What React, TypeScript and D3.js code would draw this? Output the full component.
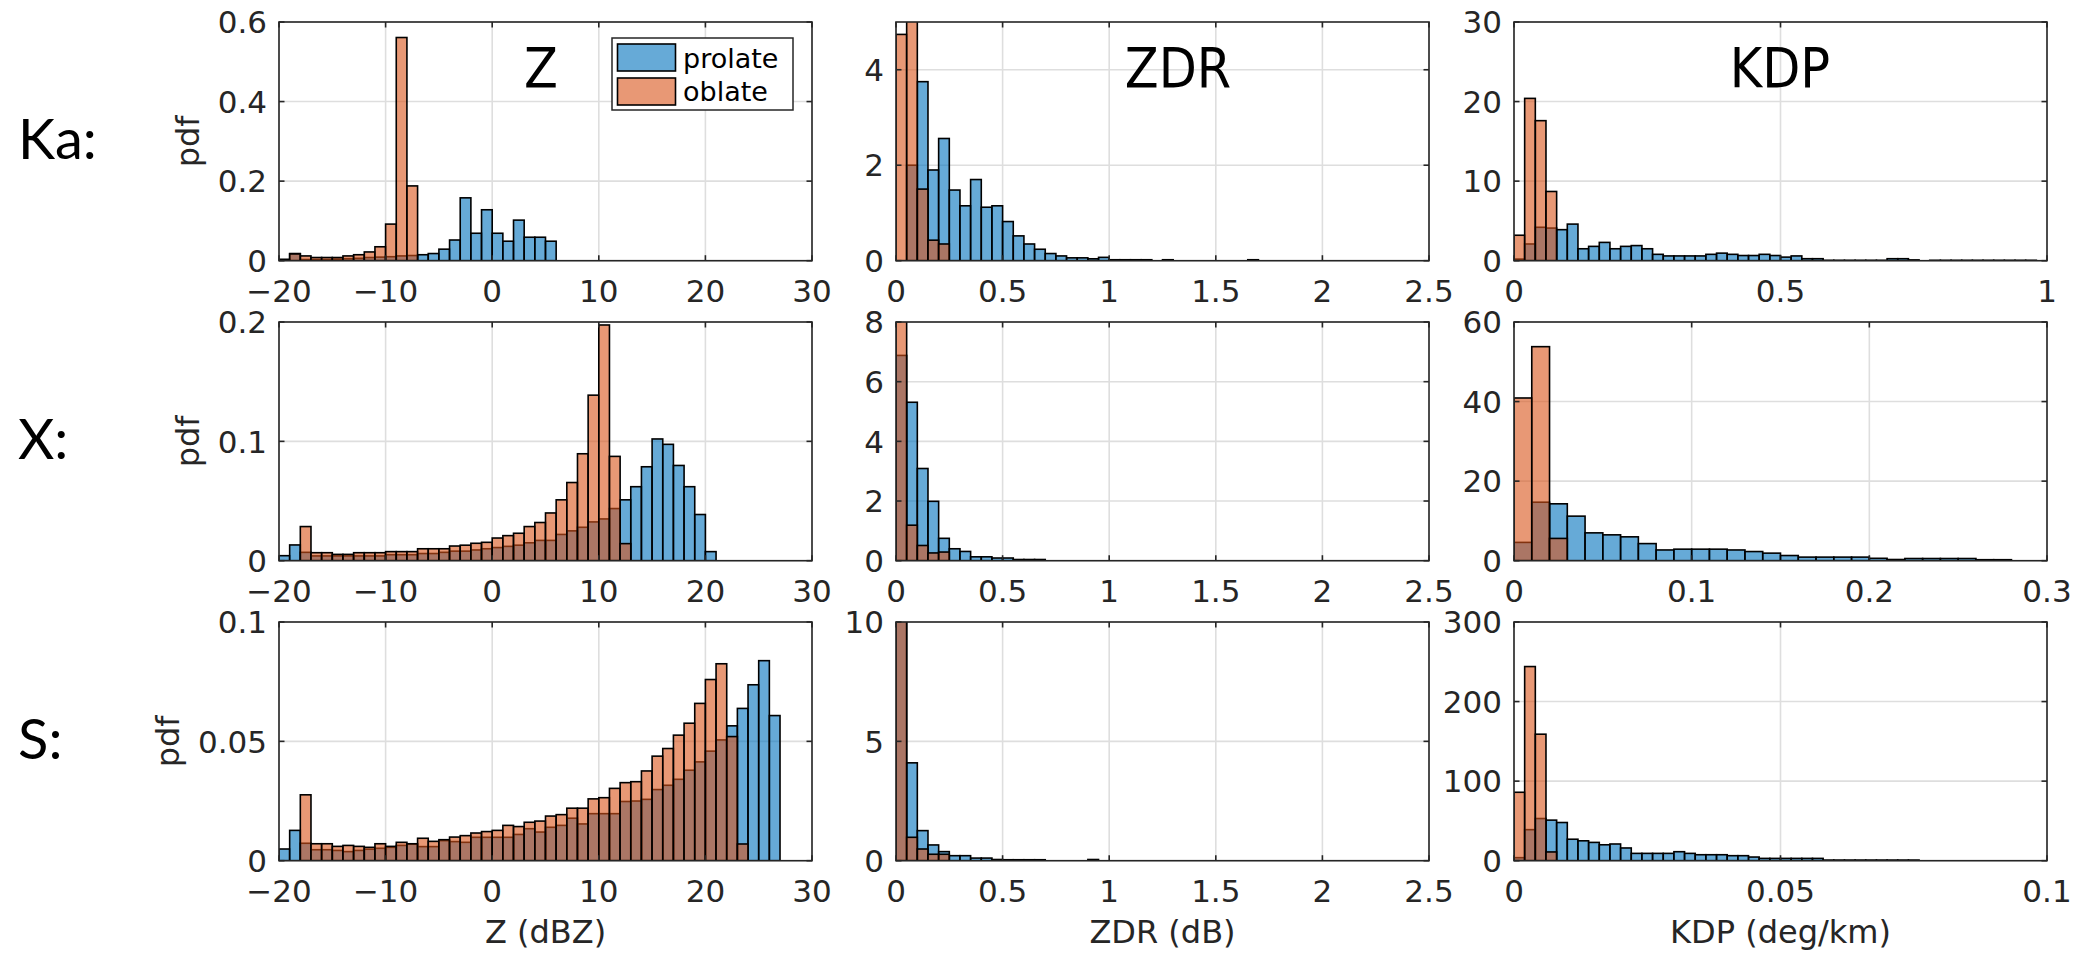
import React, { useEffect } from 'react';
import * as d3 from 'd3';

// ---------- data ----------
const bandLabels = ['Ka:', 'X:', 'S:'];
const columnTitles = ['Z', 'ZDR', 'KDP'];
const axisTitles = ['Z (dBZ)', 'ZDR (dB)', 'KDP (deg/km)'];
const legendLabels = ['prolate', 'oblate'];

const zXTicks = [-20, -10, 0, 10, 20, 30];
const zdrXTicks = [0, 0.5, 1, 1.5, 2, 2.5];
const kaKdpXTicks = [0, 0.5, 1];
const xKdpXTicks = [0, 0.1, 0.2, 0.3];
const sKdpXTicks = [0, 0.05, 0.1];

const kaZYTicks = [0, 0.2, 0.4, 0.6];
const kaZdrYTicks = [0, 2, 4];
const kaKdpYTicks = [0, 10, 20, 30];
const xZYTicks = [0, 0.1, 0.2];
const xZdrYTicks = [0, 2, 4, 6, 8];
const xKdpYTicks = [0, 20, 40, 60];
const sZYTicks = [0, 0.05, 0.1];
const sZdrYTicks = [0, 5, 10];
const sKdpYTicks = [0, 100, 200, 300];

// Z histograms: 1 dBZ bins starting at -20
const kaZProlate = [0.003, 0.018, 0.003, 0.003, 0.003, 0.004, 0.005, 0.006, 0.008, 0.009, 0.010, 0.012, 0.013,
  0.015, 0.018, 0.029, 0.052, 0.158, 0.069, 0.128, 0.069, 0.049, 0.102, 0.059, 0.059, 0.049];
const kaZOblate = [0.003, 0.017, 0.012, 0.008, 0.008, 0.008, 0.012, 0.015, 0.022, 0.035, 0.092, 0.561, 0.188];

const xZProlate = [0.0042, 0.0132, 0.007, 0.004, 0.004, 0.004, 0.004, 0.004, 0.004, 0.004,
  0.005, 0.005, 0.005, 0.006, 0.006, 0.007, 0.008, 0.008, 0.009, 0.010,
  0.011, 0.012, 0.013, 0.015, 0.017, 0.017, 0.022, 0.025, 0.028, 0.0325,
  0.035, 0.0437, 0.051, 0.062, 0.0787, 0.102, 0.0975, 0.0798, 0.062, 0.0387, 0.0076];
const xZOblate = [0, 0, 0.0286, 0.0067, 0.0067, 0.0053, 0.0053, 0.0067, 0.0067, 0.0067,
  0.0076, 0.0076, 0.0076, 0.010, 0.010, 0.010, 0.0123, 0.013, 0.0146, 0.0154,
  0.019, 0.021, 0.023, 0.0286, 0.032, 0.040, 0.051, 0.0655, 0.0896, 0.1387,
  0.1975, 0.0874, 0.0143];

const sZProlate = [0.0049, 0.0127, 0.0073, 0.0046, 0.0046, 0.0043, 0.0038, 0.0043, 0.0048, 0.0052,
  0.0056, 0.0064, 0.0069, 0.0059, 0.0059, 0.0084, 0.008, 0.0077, 0.0098, 0.0098,
  0.0098, 0.0098, 0.011, 0.0134, 0.012, 0.014, 0.0148, 0.0178, 0.0154, 0.0197,
  0.0197, 0.0197, 0.0248, 0.025, 0.0257, 0.0298, 0.0316, 0.0341, 0.0379, 0.0414,
  0.0459, 0.0506, 0.0565, 0.0638, 0.0737, 0.0838, 0.0608];
const sZOblate = [0, 0, 0.0276, 0.0071, 0.0071, 0.006, 0.0064, 0.006, 0.0056, 0.0071,
  0.006, 0.0077, 0.0071, 0.0094, 0.0081, 0.0088, 0.0099, 0.0105, 0.0116, 0.0122,
  0.0127, 0.0148, 0.0143, 0.0161, 0.0166, 0.0187, 0.0193, 0.022, 0.022, 0.0259,
  0.0264, 0.0303, 0.0327, 0.0331, 0.0376, 0.0438, 0.047, 0.0526, 0.0576, 0.0659,
  0.0759, 0.0825, 0.052, 0.007];

// ZDR histograms: 0.05 dB bins starting at 0
const kaZdrProlate = [0, 2.0, 3.75, 1.9, 2.56, 1.48, 1.15, 1.7, 1.12, 1.15,
  0.82, 0.52, 0.35, 0.24, 0.15, 0.1, 0.06, 0.06, 0.04, 0.07,
  0.02, 0.02, 0.02, 0.02, 0, 0.02, 0, 0, 0, 0, 0, 0, 0, 0.02];
const kaZdrOblate = [4.74, 5.6, 1.5, 0.43, 0.35];

const xZdrProlate = [6.88, 5.31, 3.09, 1.99, 0.75, 0.4, 0.31, 0.13, 0.13, 0.09, 0.09, 0.04, 0.04, 0.04];
const xZdrOblate = [9.0, 1.19, 0.51, 0.26, 0.29];

const sZdrProlate = [10.8, 4.1, 1.26, 0.66, 0.38, 0.21, 0.21, 0.11, 0.11, 0.05,
  0.04, 0.04, 0.04, 0.04, 0, 0, 0, 0, 0.05];
const sZdrOblate = [12.0, 0.98, 0.49, 0.27, 0.27];

// KDP histograms
const kaKdpProlate = [0.2, 2.1, 4.2, 4.1, 3.9, 4.6, 1.5, 1.8, 2.3, 1.5,
  1.8, 1.9, 1.5, 0.8, 0.6, 0.6, 0.6, 0.6, 0.8, 0.95,
  0.8, 0.65, 0.65, 0.8, 0.65, 0.45, 0.6, 0.25, 0.25, 0.05,
  0.05, 0.05, 0.05, 0.05, 0.05, 0.25, 0.25, 0.1, 0, 0.05,
  0.05, 0.05, 0.05, 0.05, 0.05, 0.05, 0.05, 0.05, 0.05];
const kaKdpOblate = [3.2, 20.4, 17.6, 8.7];

const xKdpProlate = [4.6, 14.7, 14.3, 11.2, 7.0, 6.5, 6.0, 4.3, 2.7, 2.9,
  2.9, 2.9, 2.7, 2.3, 1.9, 1.3, 0.9, 0.9, 0.9, 0.9,
  0.6, 0.3, 0.55, 0.55, 0.55, 0.55, 0.25, 0.25];
const xKdpOblate = [40.9, 53.8, 5.6];

const sKdpProlate = [3.8, 39, 53, 51, 48, 27, 25, 23, 20, 21,
  16, 9.2, 9.2, 9.2, 9.2, 11.3, 9.2, 7.5, 7.5, 7.5,
  6.3, 6.3, 4.6, 2.9, 2.9, 2.9, 2.9, 2.9, 2.9, 0.8,
  0.8, 0.8, 0.8, 0.8, 0.8, 0.8, 0.8, 0.8];
const sKdpOblate = [86, 244, 159, 11];

// ---------- styling / layout ----------
const W = 2088;
const H = 953;
const COL_LEFT = [279, 896, 1514];
const ROW_TOP = [22, 322, 622];
const PW = 533;
const PH = 238.7;
const BLUE = 'rgb(0,114,189)';
const ORANGE = 'rgb(217,83,25)';
const ALPHA = 0.6;
const AXIS_COLOR = '#262626';
const GRID_COLOR = '#dedede';
const TICK_FS = 31;
const FONT = '"DejaVu Sans", Verdana, sans-serif';

type PanelCfg = {
  row: number; col: number;
  xDomain: [number, number]; yMax: number;
  xTicks: number[]; yTicks: number[];
  binStart: number; binWidth: number;
  prolate: number[]; oblate: number[];
};

const panels: PanelCfg[] = [
  { row: 0, col: 0, xDomain: [-20, 30], yMax: 0.6, xTicks: zXTicks, yTicks: kaZYTicks, binStart: -20, binWidth: 1, prolate: kaZProlate, oblate: kaZOblate },
  { row: 0, col: 1, xDomain: [0, 2.5], yMax: 5, xTicks: zdrXTicks, yTicks: kaZdrYTicks, binStart: 0, binWidth: 0.05, prolate: kaZdrProlate, oblate: kaZdrOblate },
  { row: 0, col: 2, xDomain: [0, 1], yMax: 30, xTicks: kaKdpXTicks, yTicks: kaKdpYTicks, binStart: 0, binWidth: 0.02, prolate: kaKdpProlate, oblate: kaKdpOblate },
  { row: 1, col: 0, xDomain: [-20, 30], yMax: 0.2, xTicks: zXTicks, yTicks: xZYTicks, binStart: -20, binWidth: 1, prolate: xZProlate, oblate: xZOblate },
  { row: 1, col: 1, xDomain: [0, 2.5], yMax: 8, xTicks: zdrXTicks, yTicks: xZdrYTicks, binStart: 0, binWidth: 0.05, prolate: xZdrProlate, oblate: xZdrOblate },
  { row: 1, col: 2, xDomain: [0, 0.3], yMax: 60, xTicks: xKdpXTicks, yTicks: xKdpYTicks, binStart: 0, binWidth: 0.01, prolate: xKdpProlate, oblate: xKdpOblate },
  { row: 2, col: 0, xDomain: [-20, 30], yMax: 0.1, xTicks: zXTicks, yTicks: sZYTicks, binStart: -20, binWidth: 1, prolate: sZProlate, oblate: sZOblate },
  { row: 2, col: 1, xDomain: [0, 2.5], yMax: 10, xTicks: zdrXTicks, yTicks: sZdrYTicks, binStart: 0, binWidth: 0.05, prolate: sZdrProlate, oblate: sZdrOblate },
  { row: 2, col: 2, xDomain: [0, 0.1], yMax: 300, xTicks: sKdpXTicks, yTicks: sKdpYTicks, binStart: 0, binWidth: 0.002, prolate: sKdpProlate, oblate: sKdpOblate },
];

const fmt = (v: number) => String(v).replace('-', '\u2212');
const textWidth = (s: string, fs: number) =>
  s.split('').reduce((a, c) => a + (c === '.' ? 0.318 : c === '\u2212' ? 0.838 : 0.636), 0) * fs;

function Bars({ values, cfg, x, y, color }: { values: number[]; cfg: PanelCfg; x: any; y: any; color: string }) {
  return (
    <g>
      {values.map((v, i) => {
        if (!(v > 0)) return null;
        const x0 = cfg.binStart + i * cfg.binWidth;
        const x1 = x0 + cfg.binWidth;
        const px0 = x(x0);
        const px1 = x(x1);
        const py = y(v);
        return (
          <rect key={i} x={px0} y={py} width={px1 - px0} height={y(0) - py}
            fill={color} fillOpacity={ALPHA} stroke="#000" strokeWidth={1.6} />
        );
      })}
    </g>
  );
}

function Panel({ cfg, idx }: { cfg: PanelCfg; idx: number }) {
  const left = COL_LEFT[cfg.col];
  const top = ROW_TOP[cfg.row];
  const right = left + PW;
  const bottom = top + PH;
  const x = d3.scaleLinear().domain(cfg.xDomain).range([left, right]);
  const y = d3.scaleLinear().domain([0, cfg.yMax]).range([bottom, top]);
  const clipId = `clip-${idx}`;
  const tickLen = 5.5;
  const maxYLabelW = Math.max(...cfg.yTicks.map((t) => textWidth(fmt(t), TICK_FS)));
  return (
    <g>
      <defs>
        <clipPath id={clipId}>
          <rect x={left} y={top} width={PW} height={PH} />
        </clipPath>
      </defs>
      <rect x={left} y={top} width={PW} height={PH} fill="#fff" />
      {/* grid */}
      <g stroke={GRID_COLOR} strokeWidth={1.6}>
        {cfg.xTicks.map((t) => (
          <line key={'gx' + t} x1={x(t)} x2={x(t)} y1={top} y2={bottom} />
        ))}
        {cfg.yTicks.map((t) => (
          <line key={'gy' + t} x1={left} x2={right} y1={y(t)} y2={y(t)} />
        ))}
      </g>
      <g clipPath={`url(#${clipId})`}>
        <Bars values={cfg.prolate} cfg={cfg} x={x} y={y} color={BLUE} />
        <Bars values={cfg.oblate} cfg={cfg} x={x} y={y} color={ORANGE} />
      </g>
      {/* box and ticks */}
      <rect x={left} y={top} width={PW} height={PH} fill="none" stroke={AXIS_COLOR} strokeWidth={1.6} />
      <g stroke={AXIS_COLOR} strokeWidth={1.6}>
        {cfg.xTicks.map((t) => (
          <g key={'tx' + t}>
            <line x1={x(t)} x2={x(t)} y1={bottom} y2={bottom - tickLen} />
            <line x1={x(t)} x2={x(t)} y1={top} y2={top + tickLen} />
          </g>
        ))}
        {cfg.yTicks.map((t) => (
          <g key={'ty' + t}>
            <line x1={left} x2={left + tickLen} y1={y(t)} y2={y(t)} />
            <line x1={right} x2={right - tickLen} y1={y(t)} y2={y(t)} />
          </g>
        ))}
      </g>
      <g fontFamily={FONT} fontSize={TICK_FS} fill={AXIS_COLOR}>
        {cfg.xTicks.map((t) => (
          <text key={'lx' + t} x={x(t)} y={bottom + 41} textAnchor="middle">{fmt(t)}</text>
        ))}
        {cfg.yTicks.map((t) => (
          <text key={'ly' + t} x={left - 12} y={y(t)} dy="0.36em" textAnchor="end">{fmt(t)}</text>
        ))}
      </g>
      {cfg.col === 0 && (
        <text
          transform={`translate(${left - 12 - maxYLabelW - 19},${(top + bottom) / 2}) rotate(-90)`}
          textAnchor="middle" fontFamily={FONT} fontSize={32} fill={AXIS_COLOR}>pdf</text>
      )}
    </g>
  );
}

const titleX = [541, 1178, 1780];

export default function App() {
  useEffect(() => {
    document.body.style.margin = '0';
    document.body.style.overflow = 'hidden';
  }, []);
  return (
    <svg width={W} height={H} viewBox={`0 0 ${W} ${H}`}
      style={{ position: 'absolute', left: 0, top: 0, background: '#fff' }}>
      <rect x={0} y={0} width={W} height={H} fill="#fff" />
      {panels.map((p, i) => <Panel key={i} cfg={p} idx={i} />)}
      {/* column titles */}
      {columnTitles.map((t, i) => (
        <text key={t} x={titleX[i]} y={87} textAnchor="middle"
          fontFamily='"DejaVu Sans Condensed", "DejaVu Sans", sans-serif' fontSize={55} fill="#000">{t}</text>
      ))}
      {/* axis titles */}
      {axisTitles.map((t, i) => (
        <text key={t} x={COL_LEFT[i] + PW / 2} y={943} textAnchor="middle"
          fontFamily={FONT} fontSize={32} fill={AXIS_COLOR}>{t}</text>
      ))}
      {/* band labels */}
      {bandLabels.map((t, i) => (
        <text key={t} x={18} y={ROW_TOP[i] + PH / 2 + 18}
          fontFamily='Lato, "Open Sans", sans-serif' fontSize={56} fill="#000">{t}</text>
      ))}
      {/* legend */}
      <g>
        <rect x={612} y={38} width={181} height={72} fill="#fff" stroke={AXIS_COLOR} strokeWidth={1.5} />
        {legendLabels.map((t, i) => (
          <g key={t}>
            <rect x={617.5} y={44 + i * 34} width={58} height={27}
              fill={i === 0 ? BLUE : ORANGE} fillOpacity={ALPHA} stroke="#000" strokeWidth={1.6} />
            <text x={683} y={68 + i * 33} fontFamily={FONT} fontSize={27} fill="#000">{t}</text>
          </g>
        ))}
      </g>
    </svg>
  );
}
